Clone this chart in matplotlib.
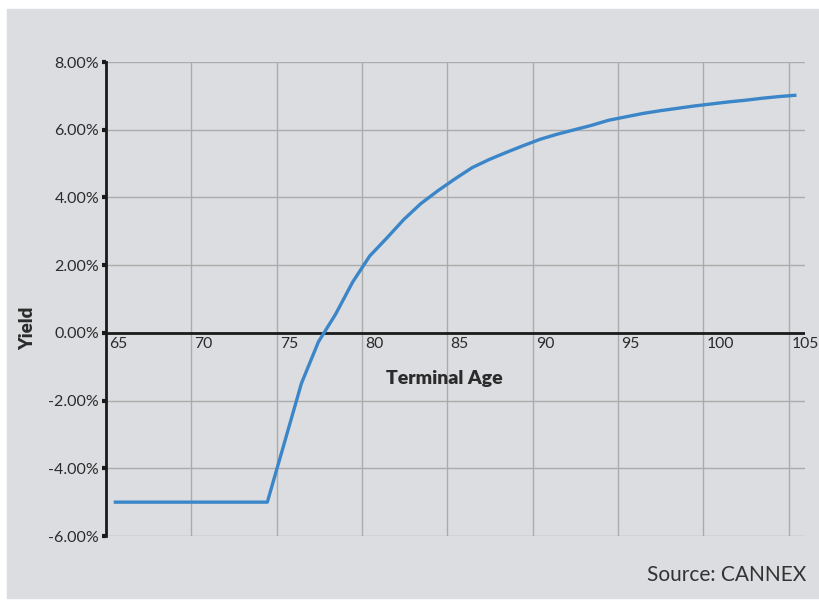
"""Yield by terminal age (CANNEX) -- recreated line chart."""
import matplotlib
matplotlib.use("Agg")
import matplotlib.pyplot as plt
from matplotlib.patches import Rectangle
from matplotlib.ticker import FuncFormatter

plt.rcParams["font.family"] = ["Lato", "DejaVu Sans"]

# terminal ages and yield (%)
ages = list(range(65, 106))
yields = [-5.0] * 10 + [
    -3.25, -1.49, -0.26, 0.55, 1.5, 2.27, 2.8, 3.35, 3.82, 4.2,
    4.55, 4.88, 5.12, 5.33, 5.53, 5.72, 5.87, 6.0, 6.13, 6.28,
    6.38, 6.48, 6.56, 6.63, 6.7, 6.76, 6.82, 6.87, 6.93, 6.98, 7.02]
x_ticks = list(range(65, 106, 5))
y_ticks = [-6, -4, -2, 0, 2, 4, 6, 8]

BG = "#dcdde0"
GRID = "#ababab"
LINE = "#3b86c8"
TXT = "#2b2b2b"

fig = plt.figure(figsize=(8.19, 6.0), dpi=100)
fig.patches.append(Rectangle((7 / 819, 2 / 600), 1 - 7 / 819, 589 / 600,
                             transform=fig.transFigure, color=BG,
                             zorder=-10))

ax = fig.add_axes([106 / 819, 64 / 600, 699 / 819, 474 / 600])
ax.set_facecolor("none")
ax.set_xlim(65, 105.95)
ax.set_ylim(-6, 8)

# category-style placement: each age sits half a step right of its gridline
ax.plot([a + 0.45 for a in ages], yields, color=LINE, lw=2.4,
        solid_capstyle="butt", zorder=3)

ax.set_yticks(y_ticks)
ax.yaxis.set_major_formatter(FuncFormatter(lambda v, _: f"{v:.2f}%"))
ax.tick_params(axis="y", length=3, width=3, color="#1a1a1a", pad=2,
               labelsize=11.5, labelcolor=TXT)
ax.set_xticks(x_ticks)
ax.tick_params(axis="x", length=0, labelbottom=False)
ax.grid(True, color=GRID, lw=1.0)
ax.set_axisbelow(True)

for s in ("top", "right", "bottom"):
    ax.spines[s].set_visible(False)
ax.spines["left"].set_linewidth(2)
ax.spines["left"].set_color("#1a1a1a")
ax.axhline(0, color="#1a1a1a", lw=2, zorder=2)

for t in x_ticks:
    ax.text(t + 0.18, -0.12, str(t), ha="left", va="top", fontsize=11.3,
            color=TXT)

ax.text(84.8, -1.36, "Terminal Age", ha="center", va="center",
        fontsize=14, fontweight="heavy", color=TXT)
fig.text(28 / 819, 1 - 328 / 600, "Yield", rotation=90, ha="center",
         va="center", fontsize=13.5, fontweight="heavy", color=TXT)
fig.text(806 / 819, 1 - 575 / 600, "Source: CANNEX", ha="right",
         va="center", fontsize=15, color="#333333")

fig.savefig("out.png", dpi=100)
